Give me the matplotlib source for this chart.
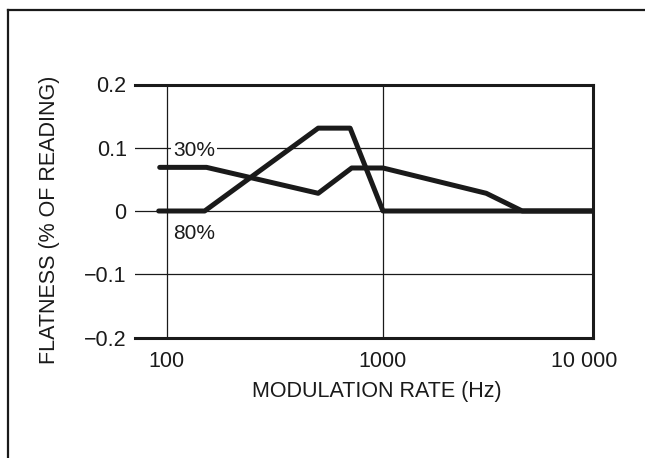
import matplotlib
matplotlib.use("Agg")
import matplotlib.pyplot as plt
from matplotlib.lines import Line2D

# ---- data ----
freq_30 = [93, 153, 502, 717, 1000, 3000, 4400, 9500]
flat_30 = [0.069, 0.069, 0.028, 0.068, 0.068, 0.028, 0.0, 0.0]
freq_80 = [92, 150, 502, 705, 1000, 9500]
flat_80 = [0.0, 0.0, 0.131, 0.131, 0.0, 0.0]

ytick_vals = [-0.2, -0.1, 0, 0.1, 0.2]
ytick_labels = ["\u22120.2", "\u22120.1", "0", "0.1", "0.2"]
xtick_vals = [100, 1000, 8500]
xtick_labels = ["100", "1000", "10 000"]
xgrid_vals = [100, 1000]
ygrid_vals = [-0.1, 0, 0.1]

plt.rcParams['font.family'] = ['Liberation Sans', 'DejaVu Sans']
INK = "#1a1a1a"
FS_TICK = 15.5
FS_ANN = 15
FS_TITLE = 15.5

fig = plt.figure(figsize=(6.45, 4.58), dpi=100)
fig.patch.set_facecolor("white")
ax = fig.add_axes([135/645, 1-337.5/458, (593-135)/645, (337.5-84.5)/458])
ax.set_xscale("log")
ax.set_xlim(71.5, 9340)
ax.set_ylim(-0.2, 0.2)

for xv in xgrid_vals:
    ax.axvline(xv, color=INK, lw=0.9, zorder=1)
for yv in ygrid_vals:
    ax.axhline(yv, color=INK, lw=0.9, zorder=1)

ax.plot(freq_30, flat_30, color=INK, lw=3.6, solid_capstyle="round",
        solid_joinstyle="round", zorder=3)
ax.plot(freq_80, flat_80, color=INK, lw=3.6, solid_capstyle="round",
        solid_joinstyle="round", zorder=3)

ax.text(134, 0.0964, "30%", ha="center", va="center", fontsize=FS_ANN,
        color=INK, zorder=2,
        bbox=dict(facecolor="white", edgecolor="none", pad=1.5))
ax.text(134, -0.0348, "80%", ha="center", va="center", fontsize=FS_ANN,
        color=INK, zorder=2)

ax.set_yticks(ytick_vals)
ax.set_yticklabels(ytick_labels)
ax.set_xticks(xtick_vals)
ax.set_xticklabels(xtick_labels)
ax.minorticks_off()
ax.tick_params(axis="both", length=0, labelsize=FS_TICK, colors=INK)
ax.tick_params(axis="y", pad=6)
ax.tick_params(axis="x", pad=10)

for side in ["top", "bottom", "right"]:
    ax.spines[side].set_linewidth(2.2)
    ax.spines[side].set_color(INK)
ax.spines["left"].set_visible(False)

ax.set_xlabel("MODULATION RATE (Hz)", fontsize=FS_TITLE, color=INK)
ax.xaxis.set_label_coords((376.5-135)/458, -(392-337.5)/253)
ax.xaxis.label.set_va("center")
ax.set_ylabel("FLATNESS (% OF READING)", fontsize=FS_TITLE, color=INK)
ax.yaxis.set_label_coords(-(135-50)/458, (337.5-220)/253)
ax.yaxis.label.set_va("center")

# outer frame (left and top border of the scanned panel)
fig.add_artist(Line2D([8/645, 8/645], [0, 1-10/458], transform=fig.transFigure,
                      color=INK, lw=1.6))
fig.add_artist(Line2D([8/645, 1], [1-10/458, 1-10/458], transform=fig.transFigure,
                      color=INK, lw=1.6))

fig.savefig("out.png", dpi=100, facecolor="white")
